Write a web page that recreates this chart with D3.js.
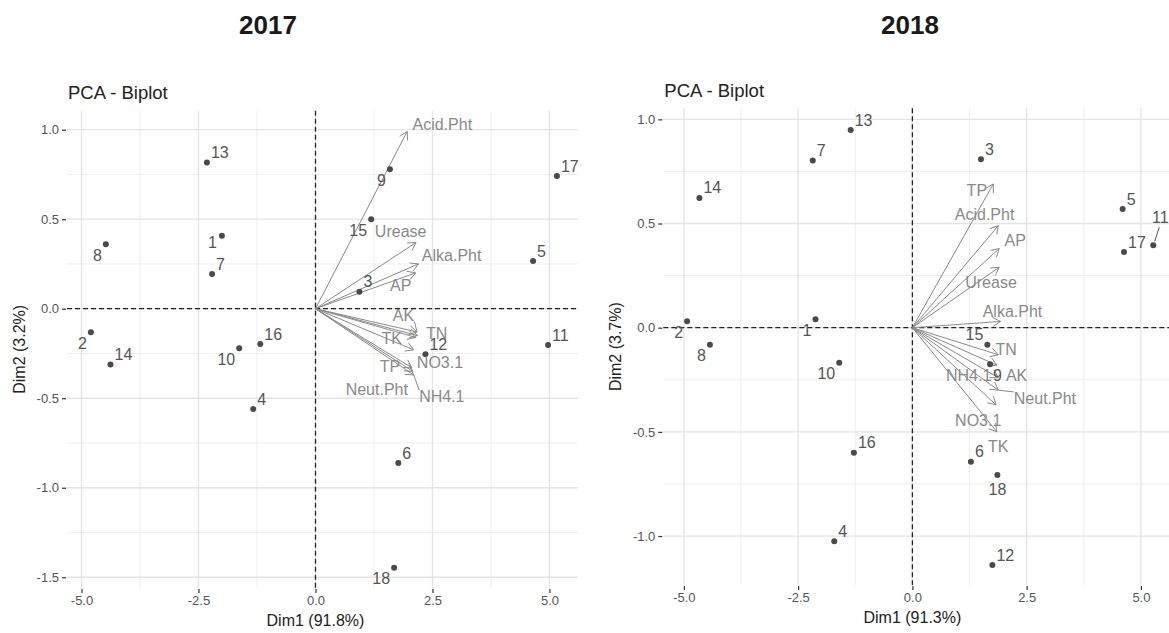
<!DOCTYPE html>
<html>
<head>
<meta charset="utf-8">
<script src="https://cdn.jsdelivr.net/npm/d3@7"></script>
<style>
  body { margin: 0; background: #fff; }
  svg { font-family: "Liberation Sans", Arial, sans-serif; }
</style>
</head>
<body>
<div id="chart"></div>
<script>
// observation ids (same order for both years)
var ids = ["1","2","3","4","5","6","7","8","9","10","11","12","13","14","15","16","17","18"];

// 2017 individuals
var dim1_2017 = [-2.00, -4.80, 0.94, -1.33, 4.65, 1.77, -2.21, -4.48, 1.59, -1.63, 4.97, 2.35, -2.32, -4.38, 1.19, -1.18, 5.16, 1.68];
var dim2_2017 = [0.408, -0.132, 0.095, -0.56, 0.266, -0.862, 0.194, 0.36, 0.779, -0.221, -0.203, -0.255, 0.816, -0.311, 0.50, -0.197, 0.741, -1.447];
var lab2017   = ["l","ll","ur","ur","ur","ur","ur","ll","ll","ll","ur","ur","ur","ur","ll","ur","ur","ll"];

// 2017 variables (arrow tips + repelled label spots)
var vars2017  = ["Acid.Pht","Urease","Alka.Pht","AP","AK","TN","TK","NO3.1","TP","Neut.Pht","NH4.1"];
var varX2017  = [1.96, 2.15, 2.20, 2.14, 2.17, 2.18, 2.14, 2.10, 2.06, 2.08, 2.10];
var varY2017  = [0.99, 0.37, 0.25, 0.20, -0.13, -0.15, -0.16, -0.23, -0.33, -0.35, -0.37];
var varLX2017 = [2.71, 1.82, 2.91, 1.82, 1.88, 2.59, 1.63, 2.66, 1.59, 1.31, 2.70];
var varLY2017 = [1.03, 0.43, 0.30, 0.13, -0.035, -0.137, -0.165, -0.298, -0.32, -0.45, -0.49];
var seg2017   = ["AK","NH4.1"];

// 2018 individuals
var dim1_2018 = [-2.12, -4.93, 1.50, -1.71, 4.60, 1.28, -2.18, -4.43, 1.70, -1.60, 5.27, 1.75, -1.35, -4.66, 1.64, -1.28, 4.63, 1.86];
var dim2_2018 = [0.040, 0.031, 0.808, -1.025, 0.570, -0.643, 0.802, -0.082, -0.176, -0.168, 0.396, -1.139, 0.949, 0.623, -0.082, -0.60, 0.363, -0.707];
var lab2018   = ["ll","ll","ur","ur","ur","ur","ur","ll","lr","ll","far","ur","ur","ur","ul","ur","ur","b"];

// 2018 variables
var vars2018  = ["TP","Acid.Pht","AP","Urease","Alka.Pht","TN","NH4.1","AK","Neut.Pht","NO3.1","TK"];
var varX2018  = [1.77, 1.88, 1.90, 1.90, 1.93, 1.88, 1.85, 1.88, 1.88, 1.83, 1.85];
var varY2018  = [0.69, 0.49, 0.38, 0.29, 0.03, -0.13, -0.18, -0.24, -0.30, -0.37, -0.50];
var varLX2018 = [1.41, 1.58, 2.25, 1.72, 2.19, 2.05, 1.23, 2.28, 2.90, 1.44, 1.88];
var varLY2018 = [0.66, 0.544, 0.42, 0.216, 0.077, -0.104, -0.23, -0.23, -0.339, -0.443, -0.568];
var seg2018   = ["Neut.Pht"];

var W = 1169, H = 633;
var svg = d3.select("#chart").append("svg")
    .attr("width", W).attr("height", H);

var fmt = d3.formatLocale({decimal: ".", thousands: ",", grouping: [3], currency: ["", ""], minus: "-"}).format(".1f");

function drawPanel(p) {
    var x = d3.scaleLinear().domain(p.xDomain).range([p.left, p.right]);
    var y = d3.scaleLinear().domain(p.yDomain).range([p.bottom, p.top]);
    var g = svg.append("g");

    // year heading
    g.append("text")
        .attr("x", p.yearX).attr("y", 34)
        .attr("text-anchor", "middle")
        .style("font-size", "26px").style("font-weight", "bold").style("fill", "#1a1a1a")
        .text(p.year);

    g.append("text")
        .attr("x", p.left + 1).attr("y", p.titleY)
        .style("font-size", "18.5px").style("fill", "#222")
        .text("PCA - Biplot");

    // grid: minor then major
    var grid = g.append("g");
    grid.selectAll(".vminor").data(p.xMinor).enter().append("line")
        .attr("x1", d => x(d)).attr("x2", d => x(d))
        .attr("y1", p.top).attr("y2", p.bottom)
        .attr("stroke", "#eeeeee").attr("stroke-width", 1);
    grid.selectAll(".hminor").data(p.yMinor).enter().append("line")
        .attr("y1", d => y(d)).attr("y2", d => y(d))
        .attr("x1", p.left).attr("x2", p.right)
        .attr("stroke", "#eeeeee").attr("stroke-width", 1);
    grid.selectAll(".vmajor").data(p.xMajor).enter().append("line")
        .attr("x1", d => x(d)).attr("x2", d => x(d))
        .attr("y1", p.top).attr("y2", p.bottom)
        .attr("stroke", "#e4e4e4").attr("stroke-width", 1.3);
    grid.selectAll(".hmajor").data(p.yMajor).enter().append("line")
        .attr("y1", d => y(d)).attr("y2", d => y(d))
        .attr("x1", p.left).attr("x2", p.right)
        .attr("stroke", "#e4e4e4").attr("stroke-width", 1.3);

    // axes (ticks + labels only)
    var ax = g.append("g").attr("transform", "translate(0," + (p.bottom + 1) + ")")
        .call(d3.axisBottom(x).tickValues(p.xMajor).tickFormat(fmt).tickSize(4).tickPadding(3));
    var ay = g.append("g").attr("transform", "translate(" + (p.left - 1) + ",0)")
        .call(d3.axisLeft(y).tickValues(p.yMajor).tickFormat(fmt).tickSize(4).tickPadding(3));
    [ax, ay].forEach(function(a) {
        a.select(".domain").remove();
        a.selectAll(".tick line").attr("stroke", "#333").attr("stroke-width", 1.2);
        a.selectAll(".tick text").style("font-size", "13px").style("fill", "#555")
            .style("font-family", "Liberation Sans, Arial, sans-serif");
    });

    g.append("text")
        .attr("x", x(0)).attr("y", p.bottom + 38)
        .attr("text-anchor", "middle")
        .style("font-size", "16px").style("fill", "#222")
        .text(p.xTitle);
    g.append("text")
        .attr("transform", "translate(" + p.yTitleX + "," + ((p.top + p.bottom) / 2) + ") rotate(-90)")
        .attr("text-anchor", "middle")
        .style("font-size", "16px").style("fill", "#222")
        .text(p.yTitle);

    // reference lines
    g.append("line")
        .attr("x1", p.left).attr("x2", p.right).attr("y1", y(0)).attr("y2", y(0))
        .attr("stroke", "#222").attr("stroke-width", 1.3).attr("stroke-dasharray", "5,3");
    g.append("line")
        .attr("x1", x(0)).attr("x2", x(0)).attr("y1", p.top).attr("y2", p.bottom)
        .attr("stroke", "#222").attr("stroke-width", 1.3).attr("stroke-dasharray", "5,3");

    // variable arrows
    var vars = p.vars.map(function(v, i) {
        return {name: v, x: p.vx[i], y: p.vy[i], lx: p.vlx[i], ly: p.vly[i]};
    });
    var arrows = g.append("g").attr("stroke", "#8a8a8a").attr("stroke-width", 1).attr("fill", "none");
    vars.forEach(function(d) {
        var x0 = x(0), y0 = y(0), x1 = x(d.x), y1 = y(d.y);
        var ang = Math.atan2(y1 - y0, x1 - x0), L = 9, a = Math.PI / 6;
        arrows.append("line").attr("x1", x0).attr("y1", y0).attr("x2", x1).attr("y2", y1);
        arrows.append("path")
            .attr("d", "M" + (x1 - L * Math.cos(ang - a)) + "," + (y1 - L * Math.sin(ang - a)) +
                       "L" + x1 + "," + y1 +
                       "L" + (x1 - L * Math.cos(ang + a)) + "," + (y1 - L * Math.sin(ang + a)));
    });

    // individuals
    var pts = ids.map(function(id, i) {
        return {id: id, x: p.px[i], y: p.py[i], pos: p.pos[i]};
    });
    g.selectAll(".pt").data(pts).enter().append("circle")
        .attr("cx", d => x(d.x)).attr("cy", d => y(d.y)).attr("r", 3)
        .attr("fill", "#4a4a4a");

    var off = {
        ur: [4, -10, "start"], ll: [-4, 11, "end"], ul: [-4, -10, "end"], lr: [3, 11, "start"],
        l: [-5, 7, "end"], b: [0, 14, "middle"], far: [7, -28, "middle"]
    };
    pts.forEach(function(d) {
        var o = off[d.pos], cx = x(d.x), cy = y(d.y);
        g.append("text")
            .attr("x", cx + o[0]).attr("y", cy + o[1])
            .attr("dy", "0.35em").attr("text-anchor", o[2])
            .style("font-size", "16px").style("fill", "#555")
            .text(d.id);
        if (d.pos === "far") {
            g.append("line").attr("x1", cx + 1.5).attr("y1", cy - 4).attr("x2", cx + 6).attr("y2", cy - 18)
                .attr("stroke", "#555").attr("stroke-width", 1);
        }
    });

    // variable labels
    vars.forEach(function(d) {
        var t = g.append("text")
            .attr("x", x(d.lx)).attr("y", y(d.ly))
            .attr("dy", "0.35em").attr("text-anchor", "middle")
            .style("font-size", "16px").style("fill", "#8a8a8a")
            .text(d.name);
        if (p.seg.indexOf(d.name) >= 0) {
            var b = t.node().getBBox();
            var tx = x(d.x), ty = y(d.y);
            var ex = Math.max(b.x, Math.min(tx, b.x + b.width));
            var ey = Math.max(b.y + 2, Math.min(ty, b.y + b.height - 2));
            g.append("line").attr("x1", tx).attr("y1", ty).attr("x2", ex).attr("y2", ey)
                .attr("stroke", "#8a8a8a").attr("stroke-width", 1);
        }
    });
}

drawPanel({
    year: "2017", yearX: 268, titleY: 99,
    left: 67, right: 578, top: 110.7, bottom: 588,
    xDomain: [-5.31, 5.61], yDomain: [-1.56, 1.106],
    xMajor: [-5, -2.5, 0, 2.5, 5], xMinor: [-3.75, -1.25, 1.25, 3.75],
    yMajor: [-1.5, -1, -0.5, 0, 0.5, 1], yMinor: [-1.25, -0.75, -0.25, 0.25, 0.75],
    xTitle: "Dim1 (91.8%)", yTitle: "Dim2 (3.2%)", yTitleX: 25,
    px: dim1_2017, py: dim2_2017, pos: lab2017,
    vars: vars2017, vx: varX2017, vy: varY2017, vlx: varLX2017, vly: varLY2017, seg: seg2017
});

drawPanel({
    year: "2018", yearX: 910, titleY: 97,
    left: 663.3, right: 1172, top: 108.3, bottom: 585,
    xDomain: [-5.45, 5.68], yDomain: [-1.235, 1.053],
    xMajor: [-5, -2.5, 0, 2.5, 5], xMinor: [-3.75, -1.25, 1.25, 3.75],
    yMajor: [-1, -0.5, 0, 0.5, 1], yMinor: [-0.75, -0.25, 0.25, 0.75],
    xTitle: "Dim1 (91.3%)", yTitle: "Dim2 (3.7%)", yTitleX: 621,
    px: dim1_2018, py: dim2_2018, pos: lab2018,
    vars: vars2018, vx: varX2018, vy: varY2018, vlx: varLX2018, vly: varLY2018, seg: seg2018
});
</script>
</body>
</html>
